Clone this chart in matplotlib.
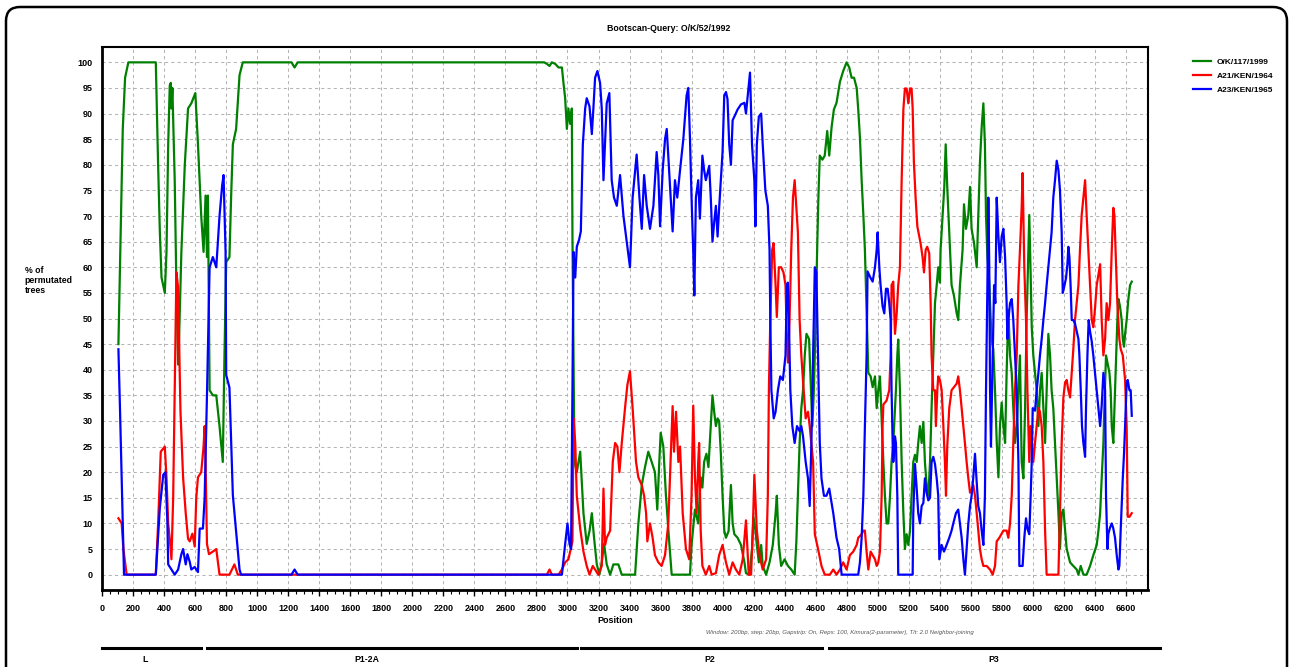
import matplotlib
matplotlib.use("Agg")
import matplotlib.pyplot as plt
import matplotlib.patches as mpatches
import matplotlib.transforms as mtransforms
from matplotlib.ticker import MultipleLocator

plt.rcParams['font.family'] = ['Liberation Sans', 'DejaVu Sans']

# O/K/117/1999 (green)
ok_pos = [
    104, 114, 132, 147, 168, 345, 360, 371, 382, 403,
    414, 425, 435, 442, 446, 452, 467, 478, 489, 495,
    510, 532, 553, 574, 600, 617, 638, 653, 666, 675,
    681, 692, 713, 735, 756, 777, 788, 799, 820, 831,
    842, 863, 885, 906, 1220, 1240, 1260, 2850, 2867, 2884,
    2899, 2921, 2942, 2964, 2974, 2985, 2996, 3006, 3017, 3028,
    3032, 3039, 3045, 3060, 3082, 3103, 3124, 3142, 3157, 3172,
    3189, 3206, 3221, 3236, 3253, 3275, 3296, 3328, 3350, 3436,
    3457, 3479, 3500, 3521, 3543, 3564, 3579, 3592, 3601, 3618,
    3635, 3657, 3672, 3790, 3800, 3822, 3843, 3859, 3870, 3881,
    3896, 3909, 3924, 3935, 3946, 3957, 3968, 3978, 3989, 4000,
    4011, 4022, 4039, 4054, 4065, 4076, 4097, 4119, 4141, 4151,
    4173, 4190, 4199, 4212, 4221, 4234, 4249, 4259, 4281, 4303,
    4324, 4342, 4350, 4363, 4378, 4400, 4422, 4443, 4465, 4476,
    4486, 4497, 4508, 4519, 4530, 4541, 4558, 4566, 4579, 4588,
    4601, 4610, 4618, 4627, 4644, 4659, 4675, 4688, 4703, 4718,
    4735, 4757, 4778, 4800, 4817, 4832, 4848, 4865, 4875, 4886,
    4897, 4908, 4918, 4929, 4940, 4955, 4968, 4983, 4994, 5004,
    5015, 5026, 5037, 5047, 5058, 5069, 5080, 5090, 5101, 5118,
    5127, 5133, 5144, 5155, 5166, 5176, 5187, 5198, 5209, 5219,
    5230, 5241, 5252, 5262, 5273, 5284, 5295, 5305, 5316, 5327,
    5338, 5348, 5359, 5370, 5381, 5391, 5402, 5406, 5419, 5430,
    5439, 5449, 5462, 5477, 5492, 5510, 5520, 5531, 5548, 5557,
    5570, 5585, 5596, 5606, 5622, 5639, 5649, 5660, 5671, 5682,
    5692, 5699, 5708, 5720, 5725, 5735, 5746, 5757, 5768, 5779,
    5789, 5800, 5811, 5822, 5832, 5843, 5854, 5865, 5875, 5886,
    5897, 5908, 5918, 5929, 5940, 5951, 5961, 5972, 5978, 5987,
    5994, 6004, 6015, 6026, 6037, 6047, 6058, 6069, 6080, 6090,
    6101, 6112, 6122, 6133, 6144, 6155, 6166, 6176, 6187, 6198,
    6209, 6219, 6241, 6262, 6284, 6295, 6310, 6327, 6348, 6370,
    6391, 6413, 6424, 6435, 6445, 6456, 6462, 6473, 6482, 6495,
    6503, 6510, 6520, 6531, 6538, 6546, 6553, 6563, 6574, 6581,
    6589, 6596, 6606, 6617, 6628, 6639]
ok_val = [
    45, 60, 87, 97, 100, 100, 80, 67, 58, 55,
    63, 84, 95.5, 96, 91, 95, 77, 56, 41, 46,
    63, 80, 91, 92, 94, 84, 70, 63, 74, 62,
    74, 36, 35, 35, 29, 22, 43, 61, 62, 74,
    84, 87, 97.5, 100, 100, 99, 100, 100, 99.7, 99.3,
    100, 99.7, 99, 99, 96, 93, 87, 91, 88, 91,
    66, 43, 22, 20, 24, 12, 6, 8.5, 12, 7,
    2, 0, 2.4, 6, 2, 0, 2, 2, 0, 0,
    10, 17.5, 21, 24, 22, 20, 12.7, 22, 27.7, 25,
    15.4, 6, 0, 0, 5.8, 12.7, 10, 19, 17, 22,
    23.6, 21, 29, 35, 31.8, 29, 30.5, 30, 23.6, 15.4,
    8.6, 7.2, 8.5, 17.5, 10, 7.9, 7.2, 5.8, 2.4, 0.3,
    0, 5, 11.3, 8.6, 5.8, 2.4, 5.8, 1.7, 0, 2.4,
    5.8, 12, 15.4, 5.8, 1.7, 3, 1.7, 1, 0, 6.5,
    15.4, 25.7, 32.5, 36, 42.8, 47, 46, 39.4, 29, 35.3,
    49.7, 63.4, 73.6, 81.8, 81, 81.8, 86.6, 81.8, 87.3, 90.8,
    92.1, 96.2, 98.3, 100, 99, 97, 97, 95, 90.8, 85.3,
    77, 70.2, 63.4, 51.7, 39.4, 38.7, 36.6, 38.7, 32.5, 36,
    38.7, 30.5, 22, 15.4, 10, 10, 15.4, 22, 25.7, 36,
    42.8, 45.9, 36, 22, 12, 5, 7.9, 5.8, 8.6, 15.4,
    22, 23.4, 22, 25.7, 29, 25.7, 29.8, 22, 17.5, 15.4,
    22, 32.5, 42.8, 53, 56.5, 60, 57, 63.4, 70.2, 75.7,
    84, 75.7, 66.8, 56.5, 54.5, 51, 49.7, 56.5, 63.4, 72.3,
    67.5, 70.2, 75.7, 67.5, 64.7, 60, 70, 80.5, 87.3, 92,
    84, 70.2, 62, 57, 53, 46, 44, 36, 26, 19,
    29, 33.6, 29, 25.7, 39.4, 51.7, 42.8, 39.4, 32.5, 25.7,
    29, 36, 42.8, 22, 18.8, 32.5, 49.7, 63.4, 70.2, 58.5,
    48.3, 42.8, 39.4, 36, 29, 36, 39.4, 32.5, 25.7, 36,
    47, 42.8, 36, 32.5, 25.7, 18.8, 12, 5.1, 12, 12.7,
    8.6, 5.1, 2.4, 1.7, 1, 0, 1.7, 0, 0, 1.7,
    3.8, 5.8, 8.6, 12, 18.8, 25.7, 32.5, 42.8, 41.4, 39.4,
    36, 29, 25.7, 36, 42.8, 49.7, 53.8, 52.4, 49.7, 46,
    44.5, 47, 49.7, 53.8, 56.5, 57.2]

# A21/KEN/1964 (red)
a21_pos = [
    104, 125, 136, 157, 345, 360, 377, 403, 414, 425,
    435, 446, 457, 467, 478, 489, 495, 504, 521, 538,
    553, 564, 581, 596, 606, 617, 638, 653, 660, 666,
    675, 688, 713, 735, 756, 820, 852, 874, 2867, 2884,
    2899, 2942, 2964, 2985, 3006, 3017, 3032, 3039, 3050, 3060,
    3082, 3103, 3124, 3142, 3163, 3178, 3199, 3221, 3232, 3242,
    3253, 3275, 3292, 3307, 3322, 3335, 3350, 3371, 3386, 3403,
    3420, 3442, 3457, 3479, 3494, 3507, 3515, 3532, 3549, 3564,
    3586, 3607, 3629, 3650, 3665, 3678, 3687, 3700, 3715, 3726,
    3743, 3764, 3785, 3800, 3811, 3822, 3833, 3843, 3849, 3859,
    3870, 3892, 3914, 3930, 3957, 3978, 4000, 4022, 4043, 4065,
    4086, 4108, 4130, 4151, 4169, 4184, 4195, 4205, 4221, 4238,
    4259, 4281, 4292, 4299, 4308, 4320, 4329, 4342, 4350, 4363,
    4378, 4393, 4406, 4415, 4422, 4432, 4443, 4454, 4465, 4476,
    4486, 4497, 4508, 4523, 4536, 4551, 4562, 4584, 4595, 4616,
    4638, 4659, 4692, 4714, 4735, 4757, 4778, 4800, 4821, 4843,
    4865, 4875, 4897, 4908, 4918, 4929, 4940, 4955, 4968, 4983,
    4994, 5004, 5015, 5026, 5032, 5037, 5058, 5075, 5084, 5090,
    5101, 5112, 5123, 5133, 5144, 5155, 5166, 5176, 5187, 5198,
    5209, 5219, 5226, 5234, 5245, 5256, 5269, 5277, 5290, 5299,
    5310, 5320, 5333, 5342, 5348, 5359, 5370, 5376, 5385, 5391,
    5402, 5413, 5424, 5434, 5441, 5449, 5462, 5477, 5492, 5510,
    5520, 5531, 5542, 5553, 5563, 5574, 5585, 5596, 5606, 5617,
    5628, 5639, 5649, 5660, 5671, 5682, 5703, 5725, 5742, 5757,
    5768, 5785, 5811, 5832, 5843, 5854, 5865, 5875, 5886, 5897,
    5908, 5918, 5929, 5935, 5940, 5946, 5957, 5966, 5972, 5978,
    5987, 5994, 6004, 6015, 6026, 6037, 6047, 6058, 6069, 6080,
    6090, 6166, 6176, 6187, 6198, 6209, 6219, 6230, 6241, 6252,
    6262, 6273, 6284, 6295, 6305, 6316, 6327, 6338, 6348, 6359,
    6370, 6381, 6391, 6402, 6413, 6424, 6435, 6445, 6456, 6467,
    6477, 6488, 6499, 6510, 6520, 6527, 6538, 6546, 6559, 6568,
    6581, 6596, 6606, 6613, 6624, 6639]
a21_val = [
    11, 10, 5, 0, 0, 10, 24, 25, 19, 10,
    7, 3, 15, 36, 59, 56, 46, 32, 19, 12,
    7, 6.5, 8, 5.5, 15, 19, 20, 25, 29, 22,
    6, 4, 4.5, 5, 0, 0, 2, 0, 0, 1,
    0, 0, 1, 2.4, 3, 4.5, 6.5, 30.5, 25.7, 15.4,
    9, 4.5, 1.7, 0, 1.7, 1, 0, 1.7, 16.8, 5.8,
    7.2, 8.6, 22, 25.7, 25, 20, 25.7, 32.5, 37, 39.7,
    32.5, 22, 19, 17.5, 15.4, 12, 6.5, 10, 7.2, 3.8,
    2.4, 1.7, 3.8, 10, 22, 32.9, 24, 31.8, 22, 25,
    12, 5, 3, 15.4, 33, 19, 12, 22, 25.7, 8.6,
    1.7, 0, 1.7, 0, 0.3, 3.8, 5.8, 2.4, 0, 2.4,
    1, 0, 3, 10.6, 0, 0, 8.6, 19.5, 8.6, 3.8,
    1, 3, 15.4, 36.6, 49.7, 63.4, 64.7, 56.5, 50.3, 60,
    60, 59, 56.5, 46, 41.4, 49.7, 63.4, 73.6, 77, 71.6,
    66.8, 49.7, 42.8, 36, 30.5, 31.8, 29, 22, 7.9, 5,
    1.7, 0, 0, 1, 0, 1, 2.4, 1, 3.8, 4.5,
    5.8, 7.2, 7.9, 8.6, 8.6, 4.5, 1, 4.5, 3.8, 3,
    1.7, 2.4, 4.5, 15.4, 29, 33.2, 34, 36, 42.8, 56.5,
    57.2, 47, 51, 56.5, 60, 77, 90.8, 94.9, 94.9, 92,
    94.9, 94.9, 91, 80.5, 73.6, 68, 66, 64.7, 62, 59,
    63.4, 64, 62.7, 53, 42.8, 36, 36, 29, 36, 38.7,
    38, 36, 29, 22, 15.4, 25, 32.5, 36, 36.6, 37.3,
    38.7, 36, 32.5, 29, 25.7, 22, 18.8, 16, 16.5, 17.5,
    15.4, 12, 8.6, 5, 3, 1.7, 1.7, 1, 0, 1.7,
    6.5, 7.2, 8.6, 8.6, 7.2, 10, 15.4, 25.7, 36, 42.8,
    56.5, 63.4, 71.6, 78.4, 70.2, 60, 49.7, 36, 29, 22,
    29, 25.7, 22, 25.7, 29, 32.5, 31.8, 29, 22, 8.6,
    0, 0, 12, 25.7, 34.6, 37.5, 38, 36, 34.6, 39.4,
    44, 49.7, 53, 56.5, 63.4, 70.2, 73.6, 77, 70.2, 63.4,
    56.5, 49.7, 48.3, 52, 56.5, 58.5, 60.6, 49.7, 42.8, 46,
    53, 49.7, 53, 63.4, 71.6, 70.2, 60, 53, 46, 44,
    42.8, 38, 29, 11.3, 11.3, 12]

# A23/KEN/1965 (blue)
a23_pos = [
    104, 114, 125, 136, 140, 345, 371, 393, 407, 420,
    425, 446, 467, 489, 510, 521, 538, 549, 564, 574,
    596, 617, 628, 649, 660, 675, 692, 713, 735, 756,
    773, 782, 795, 799, 820, 842, 863, 885, 895, 1220,
    1240, 1260, 2964, 2985, 3000, 3013, 3023, 3032, 3039, 3050,
    3060, 3075, 3086, 3099, 3114, 3124, 3142, 3157, 3167, 3178,
    3193, 3210, 3221, 3232, 3242, 3253, 3270, 3285, 3300, 3318,
    3339, 3361, 3382, 3403, 3420, 3446, 3464, 3479, 3494, 3511,
    3532, 3554, 3575, 3586, 3597, 3614, 3629, 3640, 3657, 3678,
    3693, 3708, 3726, 3747, 3768, 3779, 3790, 3800, 3811, 3818,
    3828, 3843, 3854, 3870, 3881, 3892, 3903, 3914, 3924, 3935,
    3946, 3957, 3968, 3978, 3989, 4000, 4011, 4022, 4032, 4043,
    4054, 4065, 4076, 4097, 4119, 4141, 4151, 4169, 4177, 4190,
    4205, 4212, 4221, 4234, 4249, 4259, 4276, 4292, 4303, 4308,
    4315, 4330, 4342, 4357, 4372, 4389, 4406, 4415, 4421, 4428,
    4437, 4450, 4465, 4480, 4497, 4508, 4519, 4536, 4551, 4562,
    4573, 4584, 4595, 4605, 4616, 4627, 4638, 4654, 4670, 4688,
    4703, 4714, 4735, 4752, 4768, 4875, 4886, 4897, 4908, 4918,
    4929, 4935, 4946, 4955, 4968, 4983, 4994, 5000, 5011, 5019,
    5032, 5043, 5054, 5065, 5075, 5084, 5090, 5097, 5101, 5112,
    5118, 5127, 5133, 5226, 5230, 5241, 5252, 5262, 5273, 5284,
    5295, 5305, 5316, 5327, 5338, 5348, 5359, 5370, 5381, 5391,
    5398, 5413, 5428, 5445, 5462, 5477, 5488, 5505, 5520, 5531,
    5542, 5553, 5563, 5574, 5585, 5596, 5606, 5617, 5628, 5639,
    5649, 5660, 5671, 5682, 5692, 5699, 5708, 5714, 5720, 5725,
    5731, 5742, 5751, 5759, 5768, 5779, 5789, 5800, 5811, 5822,
    5832, 5837, 5843, 5854, 5865, 5875, 5886, 5897, 5908, 5914,
    5935, 5946, 5957, 5966, 5978, 5987, 5994, 6000, 6015, 6026,
    6037, 6047, 6058, 6069, 6080, 6090, 6101, 6112, 6122, 6133,
    6144, 6155, 6166, 6176, 6187, 6194, 6202, 6215, 6224, 6230,
    6237, 6245, 6252, 6262, 6273, 6284, 6295, 6301, 6310, 6318,
    6327, 6338, 6344, 6353, 6361, 6370, 6381, 6391, 6402, 6413,
    6424, 6435, 6445, 6456, 6467, 6473, 6482, 6488, 6499, 6510,
    6520, 6531, 6542, 6553, 6559, 6568, 6581, 6589, 6596, 6606,
    6613, 6624, 6632, 6639]
a23_val = [
    44, 32.5, 19, 5, 0, 0, 13, 19.5, 20, 10,
    2, 1, 0, 1, 4, 5, 2, 4, 2.5, 1,
    1.5, 0.5, 9, 9, 15, 35, 60, 62, 60, 70,
    76, 78, 63, 39, 36.5, 15.5, 8.5, 1, 0, 0,
    1, 0, 0, 6, 10, 6, 5, 36, 63, 58,
    64, 65.4, 67, 84, 91, 93, 91.4, 86, 91, 97,
    98.3, 96, 91, 77, 84, 92, 94, 77, 73.6, 72,
    78, 70, 65, 60, 73.6, 82, 73.6, 67.5, 78, 72,
    67.5, 72, 82.5, 78, 68, 79, 85, 87, 78, 67,
    77, 73.6, 79, 85, 93.5, 95, 85, 73.6, 63, 54.5,
    73.6, 77, 69.5, 81.8, 79, 77, 78.4, 79.8, 73.6, 65,
    68.8, 72, 66, 71.6, 77, 82.5, 93.5, 94.2, 92.8, 84,
    80, 88.7, 89.4, 90.8, 91.8, 92.1, 90, 95.5, 98, 84,
    77, 68, 84, 89.4, 90, 84, 75, 72, 63.4, 49.7,
    36, 30.5, 31.8, 36, 38.7, 38, 42.8, 56.5, 57, 49.7,
    36, 29, 25.7, 29, 28, 29, 27, 22, 18.8, 13.4,
    25.7, 42.8, 60, 59, 42.8, 25.7, 18.8, 15.4, 15.4, 16.8,
    14, 12, 7.2, 5, 0, 0, 2.4, 7.2, 15.4, 29,
    42.8, 59.2, 58.5, 57.9, 57.2, 60, 63.4, 66.8, 60, 56.5,
    52.4, 51, 55.8, 55.8, 53, 49.7, 36, 25.7, 22, 27,
    25.7, 15.4, 0, 0, 12, 21.6, 16.8, 12, 10, 13.4,
    14, 18.8, 16, 14.5, 15, 22, 23, 21.6, 18.8, 15.4,
    3, 5.8, 4.5, 5.8, 7.2, 8.6, 10, 12, 12.7, 10,
    7.2, 3, 0, 5, 10, 13.4, 15.4, 19, 23.6, 18,
    13.4, 12, 8.6, 5.8, 15.4, 36, 56.5, 73.6, 60, 36,
    25, 42.8, 56.5, 53, 73.6, 66, 61, 66, 67.5, 62,
    53, 46, 49.7, 53, 53.8, 49.7, 42.8, 36, 22, 1.7,
    1.7, 7.2, 11, 9, 7.9, 15.4, 22, 32.5, 32, 36,
    39.4, 42.8, 46, 49.7, 53, 56.5, 60, 63.4, 66.8, 73.6,
    77, 80.8, 79, 75, 66.8, 55, 56, 57.9, 60.6, 64,
    62, 56, 49.7, 49.7, 49, 47.5, 46, 43, 36, 29,
    25.7, 23, 32.5, 42.8, 49.7, 47.5, 45.5, 42.8, 39.4, 36,
    32.5, 29, 33, 39.4, 36, 15.4, 5, 8, 9.2, 10,
    9, 7.2, 3.8, 1, 1.7, 9, 18.8, 23.6, 29, 37.5,
    38, 36, 36, 31]

# genome regions drawn under the axis
region_names = ['L', 'P1-2A', 'P2', 'P3']
region_start = [0, 675, 3086, 4686]
region_end = [635, 3061, 4641, 6821]
region_label_pos = [275, 1707, 3918, 5750]

fig = plt.figure(figsize=(12.9, 6.67), dpi=100)
ax = fig.add_axes([0.0793, 0.1154, 0.8109, 0.8134])

ax.plot(ok_pos, ok_val, color='#008000', lw=1.6, label='O/K/117/1999', zorder=3)
ax.plot(a21_pos, a21_val, color='#ff0000', lw=1.6, label='A21/KEN/1964', zorder=4)
ax.plot(a23_pos, a23_val, color='#0000ff', lw=1.6, label='A23/KEN/1965', zorder=5)

ax.set_xlim(0, 6746)
ax.set_ylim(-3, 102.9)
ax.xaxis.set_major_locator(MultipleLocator(200))
ax.xaxis.set_minor_locator(MultipleLocator(50))
ax.yaxis.set_major_locator(MultipleLocator(5))
ax.grid(True, which='major', color='#b4b4b4', lw=0.75, linestyle=(0, (3, 3)))
ax.tick_params(axis='x', which='major', direction='out', length=4, width=1,
               labelsize=6.5, pad=6)
ax.tick_params(axis='x', which='minor', direction='out', length=3, width=0.8)
ax.tick_params(axis='y', length=0, labelsize=6.5, pad=7)
for lab in ax.get_xticklabels() + ax.get_yticklabels():
    lab.set_fontweight('bold')
for s in ['left', 'bottom']:
    ax.spines[s].set_linewidth(2)
for s in ['top', 'right']:
    ax.spines[s].set_linewidth(1.5)

fig.text(0.518, 0.958, 'Bootscan-Query: O/K/52/1992', ha='center', va='center',
         fontsize=6.3, fontweight='bold')
fig.text(0.019, 0.579, '% of\npermutated\ntrees', ha='left', va='center',
         fontsize=6.3, fontweight='bold', linespacing=1.15)
fig.text(0.477, 0.069, 'Position', ha='center', va='center',
         fontsize=6.5, fontweight='bold')
fig.text(0.651, 0.051,
         'Window: 200bp, step: 20bp, Gapstrip: On, Reps: 100, '
         'Kimura(2-parameter), T/t: 2.0 Neighbor-joining',
         ha='center', va='center', fontsize=4.3, style='italic', color='#555555')

fig.legend(loc='upper left', bbox_to_anchor=(0.919, 0.924), frameon=False,
           prop={'size': 6, 'weight': 'bold'}, handlelength=2.2,
           labelspacing=0.75, handletextpad=0.6)

# genome regions
trans = mtransforms.blended_transform_factory(ax.transData, fig.transFigure)
for name, x0, x1, xl in zip(region_names, region_start, region_end, region_label_pos):
    ax.plot([x0, x1], [0.0285, 0.0285], color='black', lw=2.2,
            transform=trans, clip_on=False)
    ax.text(xl, 0.0105, name, transform=trans, ha='center', va='center',
            fontsize=6.3, fontweight='bold')

# rounded outer frame
frame = mpatches.FancyBboxPatch((6, -30), 1281, 690,
                                boxstyle='round,pad=0,rounding_size=14',
                                transform=None, fill=False, lw=1.8, ec='black')
fig.patches.append(frame)

fig.savefig('out.png', dpi=100)
